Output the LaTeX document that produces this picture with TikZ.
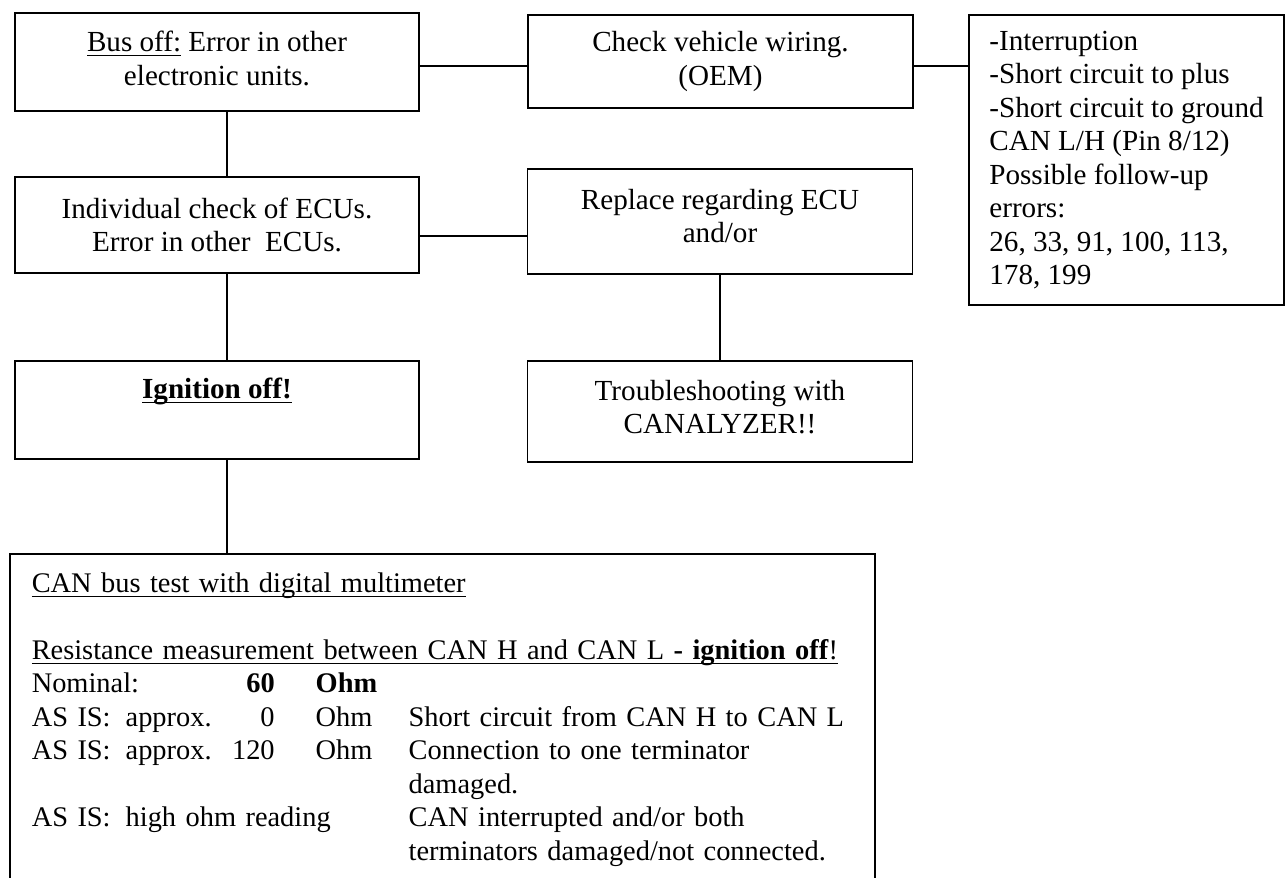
\documentclass[tikz,border=0pt]{standalone}
\usepackage{fontspec}
\setmainfont{Liberation Serif}
\usepackage{array}
\newsavebox{\ulbox}
\newcommand{\uln}[1]{\sbox{\ulbox}{#1}\rlap{\rule[-1.9pt]{\wd\ulbox}{0.6pt}}\usebox{\ulbox}}

\begin{document}
\begin{tikzpicture}[x=0.412pt, y=-0.412pt, line width=0.75pt,
    font=\fontsize{12}{13.8}\selectfont,
    box/.style={draw, align=center, inner sep=0pt, minimum width=158.6pt}]
    \useasboundingbox (0,0) rectangle (1286,877);
    \node[box, minimum width=166.4pt, minimum height=40.4pt, text depth=3.3pt] (busoff) at (217,62) {\uln{Bus off:} Error in other\\electronic units.};
    \node[box, minimum width=166.4pt, minimum height=39.6pt] (indiv) at (217,225) {Individual check of ECUs.\\Error in other\ \ ECUs.};
    \node[box, minimum width=166.4pt, minimum height=40.4pt] (ignition) at (217,410) {\uln{\textbf{Ignition off!}}\\ \strut};
    \node[box, minimum height=38.3pt] (wiring) at (720.5,61.5) {Check vehicle wiring.\\(OEM)};
    \node[box, minimum height=43.3pt, text depth=4.6pt] (replace) at (720,221.5) {Replace regarding ECU\\and/or};
    \node[box, minimum height=41.6pt, text depth=4pt] (canalyzer) at (720,411.5) {Troubleshooting with\\CANALYZER!!};
    \node[box, align=left, minimum width=129.8pt, minimum height=119.5pt] (causes) at (1126.5,160) {-Interruption\\-Short circuit to plus\\-Short circuit to ground\\CAN L/H (Pin 8/12)\\Possible follow-up\\errors:\\26, 33, 91, 100, 113,\\178, 199};
    \node[draw, anchor=north west, align=left, text width=338.4pt, inner xsep=9pt, inner ysep=6.2pt, font=\fontsize{11.7}{13.8}\selectfont] (canbus) at (9,553) {%
        \begin{tabular}{@{}p{38.7pt}@{}p{40pt}@{}>{\raggedleft\arraybackslash}p{21.4pt}@{}p{16.9pt}@{}p{38.3pt}@{}l@{}}
        \multicolumn{6}{@{}l@{}}{\uln{CAN bus test with digital multimeter}}\\
        \\
        \multicolumn{6}{@{}l@{}}{\uln{Resistance measurement between CAN H and CAN L \textbf{- ignition off}!}}\\
        \multicolumn{2}{@{}l@{}}{Nominal:} & \textbf{60} & & \textbf{Ohm} & \\
        AS IS: & approx. & 0 & & Ohm & Short circuit from CAN H to CAN L\\
        AS IS: & approx. & 120 & & Ohm & Connection to one terminator\\
        & & & & & damaged.\\
        AS IS: & \multicolumn{4}{@{}l@{}}{high ohm reading} & CAN interrupted and/or both\\
        & & & & & terminators damaged/not connected.
        \end{tabular}};
    \draw ([yshift=-1.6pt]busoff.east) -- ([yshift=-1.6pt]busoff.east -| wiring.west);
    \draw ([yshift=-1.8pt]wiring.east) -- ([yshift=-1.8pt]wiring.east -| causes.west);
    \draw ([yshift=-4.5pt]indiv.east) -- ([yshift=-4.5pt]indiv.east -| replace.west);
    \draw ([xshift=4.1pt]busoff.south) -- ([xshift=4.1pt]indiv.north);
    \draw ([xshift=4.1pt]indiv.south) -- ([xshift=4.1pt]ignition.north);
    \draw ([xshift=4.1pt]ignition.south) -- ([xshift=4.1pt]ignition.south |- canbus.north);
    \draw (replace) -- (canalyzer);
\end{tikzpicture}
\end{document}
